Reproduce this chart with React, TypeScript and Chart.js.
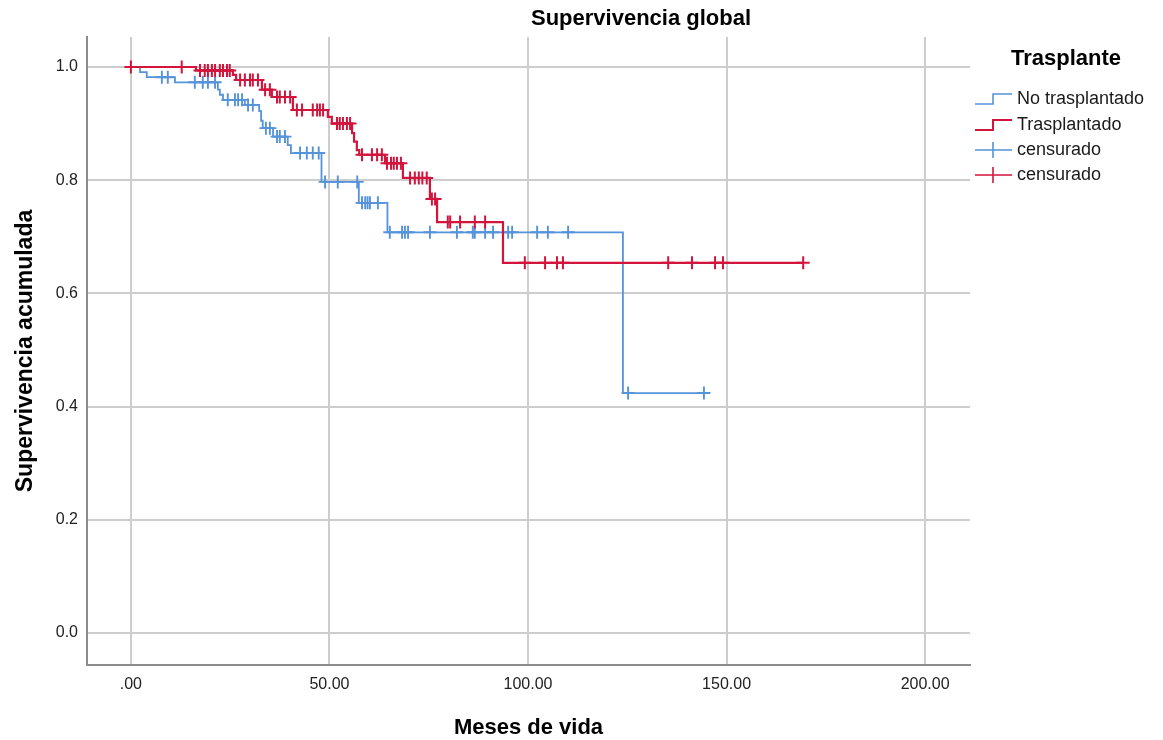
import React, { useEffect, useRef } from "react";
import { Chart, registerables } from "chart.js";

Chart.register(...registerables);

// ---- Data ----
const xTickValues = [0, 50, 100, 150, 200];
const yTickValues = [0, 0.2, 0.4, 0.6, 0.8, 1.0];

// No trasplantado: step times and survival after each step
const noTrasTimes = [0, 2.3, 4.0, 11.1, 21.9, 22.4, 23.2, 28.7, 32.3, 32.8, 33.2, 35.8, 39.5, 40.3, 48.0, 57.4, 64.6, 123.9, 144.3];
const noTrasSurv = [1.0, 0.991, 0.982, 0.973, 0.96, 0.951, 0.942, 0.933, 0.922, 0.905, 0.892, 0.877, 0.862, 0.848, 0.797, 0.76, 0.708, 0.424, 0.424];
const noTrasCensored = [7.8, 9.3, 16.1, 18.1, 19.4, 21.2, 24.4, 26.2, 27.0, 28.0, 29.5, 30.7, 34.0, 35.0, 36.8, 37.5, 38.8, 42.6, 44.3, 45.8, 47.3, 48.9, 52.1, 57.0, 58.2, 59.0, 59.6, 60.2, 62.2, 65.2, 68.3, 69.0, 69.8, 75.3, 82.1, 86.1, 86.6, 89.2, 91.2, 95.0, 96.0, 102.3, 105.0, 110.1, 125.2, 144.3];

// Trasplantado
const trasTimes = [0, 16.4, 25.7, 26.5, 33.0, 35.5, 40.8, 49.6, 50.6, 55.7, 56.2, 56.9, 57.5, 64.0, 68.5, 75.3, 77.1, 93.7, 169.3];
const trasSurv = [1.0, 0.994, 0.986, 0.977, 0.96, 0.947, 0.924, 0.912, 0.9, 0.883, 0.868, 0.853, 0.845, 0.83, 0.804, 0.767, 0.726, 0.654, 0.654];
const trasCensored = [0, 12.8, 17.4, 18.6, 19.4, 20.4, 21.2, 22.4, 23.2, 24.2, 24.9, 27.5, 28.7, 30.0, 30.7, 32.0, 33.8, 35.0, 36.8, 37.5, 38.8, 40.1, 41.8, 43.1, 45.8, 46.9, 47.6, 48.4, 51.9, 52.6, 53.4, 54.4, 55.2, 58.2, 60.7, 62.0, 63.2, 64.5, 65.5, 66.2, 67.0, 68.0, 70.3, 71.5, 72.5, 73.4, 74.5, 75.8, 76.6, 79.8, 80.4, 82.9, 86.6, 89.2, 99.2, 104.3, 107.3, 108.8, 135.3, 141.3, 147.1, 149.1, 169.3];

const legendTitle = "Trasplante";
const legendLabels = ["No trasplantado", "Trasplantado", "censurado", "censurado"];
const chartTitle = "Supervivencia global";
const xTitle = "Meses de vida";
const yTitle = "Supervivencia acumulada";

const BLUE = "#5593DA";
const RED = "#D3143D";
const FONT = "'Liberation Sans', Arial, sans-serif";

function survAt(times: number[], surv: number[], t: number) {
  let s = surv[0];
  for (let i = 0; i < times.length; i++) {
    if (times[i] <= t) s = surv[i];
  }
  return s;
}

const stepData = (times: number[], surv: number[]) => times.map((t, i) => ({ x: t, y: surv[i] }));
const censorData = (cens: number[], times: number[], surv: number[]) =>
  cens.map((t) => ({ x: t, y: survAt(times, surv, t) }));

const overlayPlugin = {
  id: "overlay",
  afterDraw(chart: any) {
    const ctx = chart.ctx as CanvasRenderingContext2D;
    const ca = chart.chartArea;
    ctx.save();
    ctx.fillStyle = "#000";
    ctx.textAlign = "center";
    ctx.textBaseline = "middle";
    // Title
    ctx.font = `bold 22px ${FONT}`;
    ctx.fillText(chartTitle, 641, 19);
    // X title
    ctx.font = `bold 22px ${FONT}`;
    ctx.fillText(xTitle, (ca.left + ca.right) / 2, 728);
    // Y title
    ctx.save();
    ctx.translate(26, (ca.top + ca.bottom) / 2);
    ctx.rotate(-Math.PI / 2);
    ctx.font = `bold 23px ${FONT}`;
    ctx.fillText(yTitle, 0, 0);
    ctx.restore();
    // Legend
    ctx.font = `bold 22px ${FONT}`;
    ctx.fillText(legendTitle, 1066, 59);
    ctx.font = `18px ${FONT}`;
    ctx.textAlign = "left";
    const rows = [99, 125, 150, 175];
    const colors = [BLUE, RED, BLUE, RED];
    rows.forEach((y, i) => {
      ctx.strokeStyle = colors[i];
      ctx.lineWidth = i === 1 ? 2 : 1.6;
      ctx.beginPath();
      if (i < 2) {
        ctx.moveTo(975, y + 5);
        ctx.lineTo(993, y + 5);
        ctx.lineTo(993, y - 5);
        ctx.lineTo(1012, y - 5);
      } else {
        ctx.moveTo(975, y);
        ctx.lineTo(1012, y);
        ctx.moveTo(993, y - 8);
        ctx.lineTo(993, y + 8);
      }
      ctx.stroke();
      ctx.fillStyle = "#1a1a1a";
      ctx.fillText(legendLabels[i], 1017, y);
    });
    ctx.restore();
  },
};

export default function App() {
  const ref = useRef<HTMLCanvasElement | null>(null);
  useEffect(() => {
    if (!ref.current) return;
    const chart = new Chart(ref.current, {
      type: "scatter",
      data: {
        datasets: [
          {
            label: "Trasplantado censurado",
            data: censorData(trasCensored, trasTimes, trasSurv),
            showLine: false,
            pointStyle: "cross",
            pointRadius: 6.5,
            pointBorderWidth: 2,
            borderColor: RED,
            backgroundColor: RED,
          },
          {
            label: "Trasplantado",
            data: stepData(trasTimes, trasSurv),
            showLine: true,
            stepped: true,
            borderColor: RED,
            borderWidth: 2.2,
            pointRadius: 0,
            fill: false,
          },
          {
            label: "No trasplantado censurado",
            data: censorData(noTrasCensored, noTrasTimes, noTrasSurv),
            showLine: false,
            pointStyle: "cross",
            pointRadius: 6.5,
            pointBorderWidth: 1.9,
            borderColor: BLUE,
            backgroundColor: BLUE,
          },
          {
            label: "No trasplantado",
            data: stepData(noTrasTimes, noTrasSurv),
            showLine: true,
            stepped: true,
            borderColor: BLUE,
            borderWidth: 1.8,
            pointRadius: 0,
            fill: false,
          },
        ],
      },
      options: {
        responsive: false,
        animation: false,
        layout: { padding: { top: 37, right: 193, bottom: 0, left: 0 } },
        plugins: {
          legend: { display: false },
          title: { display: false },
          tooltip: { enabled: false },
        },
        scales: {
          x: {
            type: "linear",
            min: -11.05,
            max: 211.3,
            afterFit: (s: any) => {
              s.height = 75;
            },
            afterBuildTicks: (s: any) => {
              s.ticks = xTickValues.map((v) => ({ value: v }));
            },
            ticks: {
              padding: 10,
              color: "#222",
              font: { family: FONT, size: 16 },
              callback: (v: any) => (Number(v) === 0 ? ".00" : Number(v).toFixed(2)),
            },
            grid: { color: "#cdcdcd", lineWidth: 2, drawTicks: false },
            border: { color: "#8c8c8c", width: 2 },
          },
          y: {
            type: "linear",
            min: -0.0565,
            max: 1.053,
            afterFit: (s: any) => {
              s.width = 87;
            },
            afterBuildTicks: (s: any) => {
              s.ticks = yTickValues.map((v) => ({ value: v }));
            },
            ticks: {
              padding: 9,
              color: "#222",
              font: { family: FONT, size: 16 },
              callback: (v: any) => Number(v).toFixed(1),
            },
            grid: { color: "#cdcdcd", lineWidth: 2, drawTicks: false },
            border: { color: "#8c8c8c", width: 2 },
          },
        },
      },
      plugins: [overlayPlugin],
    });
    return () => chart.destroy();
  }, []);
  return (
    <div style={{ position: "absolute", left: 0, top: 0, width: 1163, height: 740, background: "#fff" }}>
      <canvas ref={ref} width={1163} height={740} />
    </div>
  );
}
